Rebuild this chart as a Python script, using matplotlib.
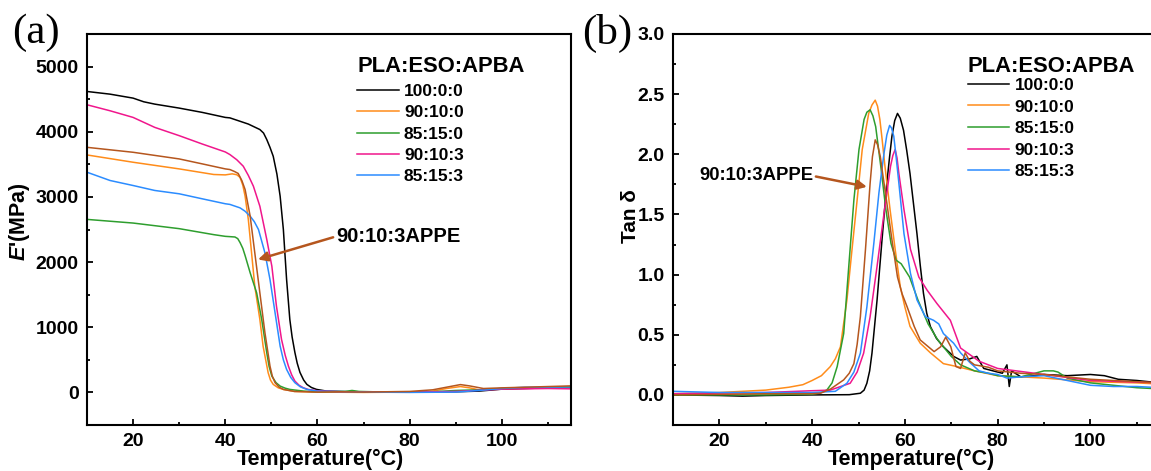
import matplotlib
matplotlib.use("Agg")
import matplotlib.pyplot as plt
from matplotlib.ticker import MultipleLocator, FormatStrFormatter

plt.rcParams['font.family'] = ['Liberation Sans', 'DejaVu Sans']
plt.rcParams['font.weight'] = 'bold'
plt.rcParams['mathtext.fontset'] = 'custom'
plt.rcParams['mathtext.rm'] = 'Liberation Sans:bold'
plt.rcParams['mathtext.it'] = 'Liberation Sans:italic:bold'
plt.rcParams['mathtext.bf'] = 'Liberation Sans:bold'

# ---------------- data: panel (a) storage modulus E' (MPa) ----------------
labels = ['100:0:0', '90:10:0', '85:15:0', '90:10:3', '85:15:3']
appe_label = '90:10:3APPE'
colors = ['#000000', '#FF8C1A', '#2E9E2E', '#F0168C', '#2B8CFF']
appe_color = '#B5561E'

Ta_black = [10, 15, 20, 22.3, 24.7, 30, 35, 40, 41, 45, 47.5, 48.3, 49, 49.7, 50.4, 51.2, 51.9, 52.6,
            53.3, 54.0, 54.5, 55.1, 55.6, 56.2, 57.0, 57.7, 58.7, 59.8, 62, 70, 80, 90, 95, 100, 105,
            110, 115]
Ea_black = [4618, 4577, 4516, 4460, 4424, 4363, 4297, 4220, 4213, 4118, 4034, 3980, 3880, 3760, 3624,
            3350, 3011, 2500, 1733, 1120, 850, 613, 450, 307, 190, 123, 75, 46, 20, 5, 5, 10, 20, 50,
            60, 70, 80]

Ta_orange = [10, 20, 30, 37.5, 40, 41.5, 42.5, 43.2, 43.8, 44.3, 45.0, 45.7, 46.4, 47.5, 48.2, 49.3,
             49.8, 50.4, 51.5, 52.6, 55, 60, 70, 80, 85, 88, 91, 93, 95, 100, 105, 110, 115]
Ea_orange = [3644, 3532, 3430, 3344, 3338, 3354, 3340, 3300, 3180, 3011, 2653, 2142, 1630, 1120, 710,
             302, 190, 123, 70, 46, 15, 5, 0, 5, 20, 60, 90, 70, 40, 60, 70, 80, 90]

Ta_green = [10, 20, 30, 37.5, 40, 42.1, 42.7, 43.2, 43.8, 44.3, 45.4, 46.8, 47.9, 49.0, 49.5, 50.1,
            51.0, 51.9, 53.0, 54, 57, 60, 66, 67.5, 69, 75, 85, 90, 95, 100, 110, 115]
Ea_green = [2655, 2599, 2513, 2421, 2395, 2385, 2360, 2300, 2210, 2100, 1835, 1529, 1120, 608, 400,
            250, 150, 97, 65, 46, 20, 10, 15, 30, 15, 5, 10, 30, 40, 60, 70, 80]

Ta_pink = [10, 15, 20, 24.7, 30, 35, 40, 41, 42.5, 43.9, 45, 46.1, 47.5, 49.0, 50.1, 51.1, 52.2, 53.0,
           53.7, 54.4, 55.1, 56.0, 56.9, 58.0, 60, 65, 80, 90, 100, 110, 115]
Ea_pink = [4414, 4322, 4220, 4067, 3940, 3812, 3690, 3650, 3570, 3471, 3330, 3164, 2857, 2347, 1937,
           1324, 813, 570, 403, 270, 174, 110, 72, 45, 25, 10, 5, 15, 50, 60, 55]

Ta_blue = [10, 15, 20, 24.7, 30, 35, 40, 41, 43.2, 44.3, 45.4, 46.3, 47.2, 48.6, 49.7, 50.8, 51.9,
           52.6, 53.3, 54.2, 55.1, 56.3, 57.7, 60, 70, 80, 90, 95, 100, 105, 110, 115]
Ea_blue = [3379, 3252, 3175, 3099, 3048, 2971, 2895, 2885, 2832, 2780, 2704, 2620, 2500, 2142, 1733,
           1222, 710, 500, 353, 230, 149, 85, 46, 20, 5, 0, 5, 30, 60, 80, 80, 85]

Ta_appe = [10, 20, 30, 35, 40, 41, 42, 42.8, 43.6, 44.3, 45.4, 46.4, 47.5, 48.6, 49.7, 50.2, 50.8,
           51.7, 52.6, 55, 60, 65, 70, 80, 85, 88, 91, 93, 96, 100, 105, 110, 115]
Ea_appe = [3761, 3685, 3583, 3507, 3430, 3420, 3390, 3360, 3250, 3113, 2704, 2142, 1529, 916, 403, 250,
           149, 80, 46, 15, 5, 10, 5, 15, 40, 80, 120, 100, 60, 70, 80, 90, 100]

# ---------------- data: panel (b) tan delta ----------------
Tb_black = [10, 20, 25, 30, 40, 48, 50.4, 51.2, 51.8, 52.4, 52.9, 54.0, 55.0, 56.1, 56.7, 57.2, 57.8,
            58.4, 59.0, 59.7, 60.4, 61.1, 62.6, 63.3, 64.0, 64.7, 65.5, 66.8, 68.3, 70.5, 72, 74, 75.5,
            77, 79, 81, 82, 82.5, 83, 85, 88, 90, 95, 100, 103, 106, 110, 115]
tb_black = [0, -0.005, -0.01, -0.005, 0, 0.002, 0.014, 0.04, 0.097, 0.2, 0.347, 0.79, 1.26, 1.76, 1.98,
            2.15, 2.28, 2.34, 2.30, 2.20, 2.03, 1.84, 1.34, 1.08, 0.845, 0.68, 0.568, 0.47, 0.40, 0.32,
            0.29, 0.30, 0.32, 0.22, 0.20, 0.18, 0.25, 0.07, 0.20, 0.15, 0.16, 0.17, 0.16, 0.17, 0.16,
            0.13, 0.12, 0.10]

Tb_orange = [10, 20, 30, 35, 38, 40, 42, 43.9, 45, 46.1, 47.5, 48.6, 49.7, 50.8, 52.2, 52.9, 53.6,
             54.1, 54.6, 55.1, 55.7, 56.8, 57.9, 59.0, 60.0, 61.1, 63.3, 65.5, 68.3, 71.2, 75, 80, 90,
             100, 110, 115]
tb_orange = [0.01, 0.02, 0.04, 0.064, 0.085, 0.12, 0.16, 0.235, 0.30, 0.40, 0.79, 1.21, 1.62, 2.04,
             2.34, 2.41, 2.45, 2.40, 2.29, 2.12, 1.90, 1.54, 1.21, 0.90, 0.73, 0.57, 0.43, 0.35, 0.26,
             0.236, 0.20, 0.16, 0.14, 0.11, 0.10, 0.09]

Tb_green = [10, 20, 30, 40, 42, 43.2, 44.3, 45.4, 46.8, 47.9, 49.0, 50.1, 51.2, 51.8, 52.5, 53.1, 53.7,
            54.2, 54.8, 55.9, 57.0, 58.1, 59.2, 61.0, 62.8, 65.0, 67.1, 70.0, 72, 75, 78, 80, 85, 88,
            90, 92, 93, 95, 100, 105, 110, 115]
tb_green = [0, 0, 0, 0.005, 0.02, 0.042, 0.10, 0.236, 0.51, 1.07, 1.62, 2.04, 2.29, 2.35, 2.37, 2.32,
            2.23, 2.08, 1.90, 1.54, 1.26, 1.12, 1.09, 0.98, 0.79, 0.59, 0.457, 0.32, 0.25, 0.20, 0.18,
            0.16, 0.15, 0.18, 0.20, 0.20, 0.19, 0.14, 0.10, 0.08, 0.06, 0.05]

Tb_pink = [10, 20, 30, 40, 43.9, 48.2, 49.7, 51.1, 52.5, 54.0, 55.5, 56.9, 57.4, 57.9, 58.3, 58.7,
           59.8, 61.2, 63.0, 64.8, 66.9, 69.8, 72, 76, 80, 88, 100, 115]
tb_pink = [0.01, 0.015, 0.02, 0.035, 0.04, 0.097, 0.19, 0.347, 0.65, 1.07, 1.51, 1.90, 1.99, 2.04, 1.97,
           1.84, 1.54, 1.21, 0.98, 0.87, 0.76, 0.62, 0.39, 0.28, 0.22, 0.18, 0.12, 0.10]

Tb_blue = [10, 20, 30, 40, 45, 47.5, 49, 50.4, 51.8, 53.3, 54.4, 55.5, 56.1, 56.7, 57.1, 57.6, 58.1,
           58.7, 59.8, 61.2, 62.6, 64.4, 66.2, 67.3, 68.3, 70.5, 72, 74, 76, 78, 80, 82, 85, 90, 95,
           100, 105, 110, 115]
tb_blue = [0.03, 0.02, 0.02, 0.02, 0.03, 0.097, 0.19, 0.347, 0.73, 1.26, 1.68, 2.01, 2.16, 2.24, 2.22,
           2.15, 1.98, 1.76, 1.34, 1.01, 0.79, 0.65, 0.62, 0.59, 0.51, 0.43, 0.35, 0.27, 0.20, 0.18,
           0.17, 0.14, 0.15, 0.16, 0.12, 0.08, 0.07, 0.07, 0.06]

Tb_appe = [10, 20, 30, 40, 41.8, 44, 46.8, 48, 49.0, 49.7, 50.4, 51.5, 52.5, 53.0, 53.6, 54.1, 54.7,
           55.2, 55.8, 57.2, 58.4, 59.4, 60.5, 62.0, 63.3, 66.3, 67.7, 68.8, 69.9, 71.0, 72, 73, 74, 75,
           78, 80, 85, 90, 95, 100, 105, 110, 115]
tb_appe = [0, 0.005, 0.01, 0.01, 0.014, 0.05, 0.125, 0.18, 0.26, 0.42, 0.65, 1.21, 1.76, 1.98, 2.12,
           2.08, 1.98, 1.84, 1.68, 1.29, 0.98, 0.84, 0.73, 0.57, 0.457, 0.36, 0.40, 0.48, 0.40, 0.236,
           0.22, 0.35, 0.28, 0.25, 0.23, 0.20, 0.18, 0.17, 0.15, 0.13, 0.12, 0.11, 0.10]

# ---------------- figure ----------------
W, H = 1151, 471
fig = plt.figure(figsize=(W / 100, H / 100), dpi=100)

def px_axes(l, r, t, b):
    return [l / W, (H - b) / H, (r - l) / W, (b - t) / H]

axA = fig.add_axes(px_axes(87, 571, 34, 425))
axB = fig.add_axes(px_axes(673, 1160, 34, 425))

lw = 1.1
seriesA = [(Ta_black, Ea_black), (Ta_orange, Ea_orange), (Ta_green, Ea_green),
           (Ta_pink, Ea_pink), (Ta_blue, Ea_blue)]
seriesB = [(Tb_black, tb_black), (Tb_orange, tb_orange), (Tb_green, tb_green),
           (Tb_pink, tb_pink), (Tb_blue, tb_blue)]

for ax, series, appe in [(axA, seriesA, (Ta_appe, Ea_appe)), (axB, seriesB, (Tb_appe, tb_appe))]:
    for (x, y), c, lab in zip(series, colors, labels):
        ax.plot(x, y, color=c, lw=lw, label=lab, solid_joinstyle='round')
    ax.plot(appe[0], appe[1], color=appe_color, lw=lw, solid_joinstyle='round')
    ax.set_xlim(10, 115)
    ax.xaxis.set_major_locator(MultipleLocator(20))
    ax.xaxis.set_minor_locator(MultipleLocator(10))
    ax.tick_params(which='both', direction='in', top=False, right=False, width=1.3,
                   labelsize=14, pad=6)
    ax.tick_params(which='major', length=4)
    ax.tick_params(which='minor', length=2.5)
    for sp in ax.spines.values():
        sp.set_linewidth(1.5)
    for t in ax.get_xticklabels() + ax.get_yticklabels():
        t.set_fontweight('bold')
    ax.set_xlabel('Temperature(°C)', fontsize=15.5, fontweight='bold')

# panel A axes
axA.set_ylim(-500, 5500)
axA.yaxis.set_major_locator(MultipleLocator(1000))
axA.yaxis.set_minor_locator(MultipleLocator(500))
axA.set_ylabel(r"$\mathit{E}$'(MPa)", fontsize=15.5, fontweight='bold')
axA.yaxis.set_label_coords(-0.113, 0.52)
axA.xaxis.set_label_coords(0.483, -0.062)

# panel B axes
axB.set_ylim(-0.25, 3.0)
axB.yaxis.set_major_locator(MultipleLocator(0.5))
axB.yaxis.set_minor_locator(MultipleLocator(0.25))
axB.yaxis.set_major_formatter(FormatStrFormatter('%.1f'))
axB.set_ylabel('Tan δ', fontsize=15, fontweight='bold')
axB.yaxis.set_label_coords(-0.068, 0.535)
axB.xaxis.set_label_coords(0.49, -0.062)

# legends
for ax, lx, ty, ly, sp in [(axA, 0.558, 0.918, 0.872, 0.35), (axB, 0.605, 0.918, 0.888, 0.37)]:
    ax.text(lx, ty, 'PLA:ESO:APBA', transform=ax.transAxes, fontsize=15.8, fontweight='bold',
            ha='left', va='center')
    ax.legend(loc='upper left', bbox_to_anchor=(lx, ly), frameon=False, borderpad=0,
              borderaxespad=0, handlelength=2.4, handletextpad=0.3, labelspacing=sp,
              prop={'weight': 'bold', 'size': 12.5})

# annotations
axA.annotate(appe_label, xy=(47.1, 2040), xytext=(64.0, 2393), fontsize=14.5, fontweight='bold',
             ha='left', va='center',
             arrowprops=dict(arrowstyle='-|>', color=appe_color, lw=1.8, mutation_scale=14,
                             shrinkA=0, shrinkB=0, relpos=(0, 0.5)))
axB.annotate(appe_label, xy=(51.8, 1.73), xytext=(15.6, 1.82), fontsize=13.3, fontweight='bold',
             ha='left', va='center',
             arrowprops=dict(arrowstyle='-|>', color=appe_color, lw=1.8, mutation_scale=14,
                             shrinkA=0, shrinkB=0, relpos=(1, 0.5)))

# panel letters
fig.text(12 / W, 1 - 33 / H, '(a)', family='Liberation Serif', fontsize=31, fontweight='normal',
         ha='left', va='center')
fig.text(582 / W, 1 - 33 / H, '(b)', family='Liberation Serif', fontsize=31, fontweight='normal',
         ha='left', va='center')

fig.savefig('out.png', dpi=100)
